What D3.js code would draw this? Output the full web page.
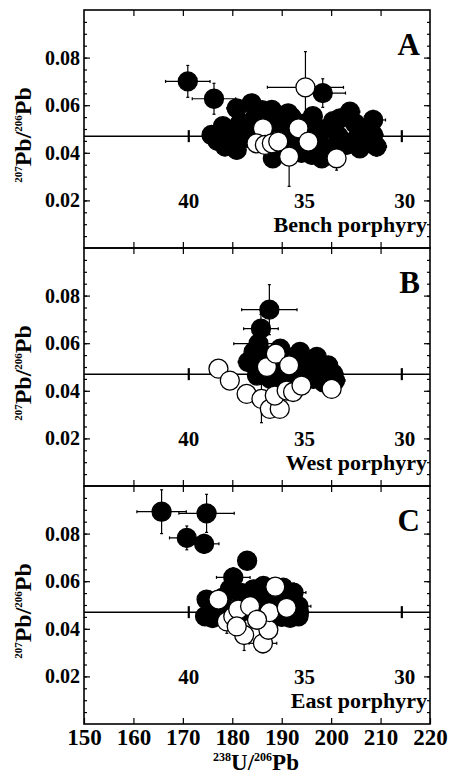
<!DOCTYPE html>
<html>
<head>
<meta charset="utf-8">
<script src="https://cdn.jsdelivr.net/npm/d3@7"></script>
<style>
  body { margin: 0; background: #fff; }
  text { font-family: "Liberation Serif", "Times New Roman", serif; font-weight: bold; fill: #000; }
</style>
</head>
<body>
<svg id="chart"></svg>
<script>
// x ticks (238U/206Pb) and y ticks (207Pb/206Pb)
const xTicks = [150, 160, 170, 180, 190, 200, 210, 220];
const yTicks = [0.02, 0.04, 0.06, 0.08];
const yMinorTicks = d3.range(0.005, 0.1, 0.005);

// concordia: flat reference line with age ticks (Ma)
const concordiaRatio = 0.047;
const ageLabels = [40, 35, 30];
const ageRatios = [171.2, 194.6, 214.3];

const panelLetters = ["A", "B", "C"];
const panelNames = ["Bench porphyry", "West porphyry", "East porphyry"];

// each point: [238U/206Pb, 207Pb/206Pb, err x, err y]
const benchFilled = [
  [171.0, 0.0700, 4.5, 0.0067], [176.3, 0.0627, 4.4, 0.0065], [180.9, 0.0587, 2.0, 0.0035],
  [183.9, 0.0608, 2.0, 0.0035], [198.3, 0.0651, 4.6, 0.0060], [175.8, 0.0475, 1.5, 0.0030],
  [178.1, 0.0512, 1.5, 0.0030], [178.5, 0.0427, 2.0, 0.0040], [180.9, 0.0412, 1.5, 0.0030],
  [181.6, 0.0526, 1.5, 0.0030], [183.6, 0.0461, 1.5, 0.0030], [186.0, 0.0579, 1.5, 0.0030],
  [188.0, 0.0580, 1.5, 0.0030], [191.3, 0.0566, 1.5, 0.0030], [188.2, 0.0377, 1.5, 0.0030],
  [190.7, 0.0482, 1.5, 0.0030], [193.7, 0.0461, 1.5, 0.0030], [196.3, 0.0554, 1.5, 0.0030],
  [196.1, 0.0391, 1.5, 0.0030], [198.1, 0.0377, 1.5, 0.0030], [199.1, 0.0419, 1.5, 0.0030],
  [200.4, 0.0533, 1.5, 0.0030], [201.8, 0.0545, 1.5, 0.0030], [203.8, 0.0573, 2.0, 0.0030],
  [203.1, 0.0433, 1.5, 0.0030], [205.2, 0.0461, 1.5, 0.0030], [208.5, 0.0538, 2.5, 0.0040],
  [208.5, 0.0475, 2.0, 0.0030], [209.2, 0.0426, 2.0, 0.0040], [204.8, 0.0524, 1.5, 0.0030],
  [205.8, 0.0419, 1.5, 0.0030], [194.7, 0.0524, 1.5, 0.0030], [192.1, 0.0420, 1.5, 0.0030],
  [186.0, 0.0440, 1.5, 0.0030], [190.0, 0.0520, 1.5, 0.0030], [184.5, 0.0545, 1.5, 0.0030],
  [197.5, 0.0480, 1.5, 0.0030], [201.5, 0.0470, 1.5, 0.0030], [182.0, 0.0480, 1.5, 0.0030],
  [184.0, 0.0520, 1.5, 0.0030], [188.5, 0.0530, 1.5, 0.0030], [192.0, 0.0550, 1.5, 0.0030],
  [195.0, 0.0460, 1.5, 0.0030], [199.0, 0.0500, 1.5, 0.0030], [202.0, 0.0440, 1.5, 0.0030],
  [206.5, 0.0500, 1.5, 0.0030], [207.0, 0.0440, 1.5, 0.0030], [190.0, 0.0430, 1.5, 0.0030],
  [194.0, 0.0400, 1.5, 0.0030], [197.0, 0.0430, 1.5, 0.0030], [186.5, 0.0475, 1.5, 0.0030],
  [179.5, 0.0470, 1.5, 0.0030], [177.0, 0.0450, 1.5, 0.0030]
];
const benchOpen = [
  [194.8, 0.0675, 7.7, 0.0150], [186.2, 0.0503, 1.5, 0.0030], [184.9, 0.0440, 1.5, 0.0030],
  [186.6, 0.0433, 1.5, 0.0030], [188.0, 0.0440, 1.5, 0.0030], [189.3, 0.0447, 1.5, 0.0030],
  [191.5, 0.0384, 1.5, 0.0125], [193.4, 0.0503, 1.5, 0.0030], [195.4, 0.0447, 1.5, 0.0070],
  [201.1, 0.0377, 1.5, 0.0050]
];

const westFilled = [
  [187.5, 0.0741, 5.6, 0.0105], [185.8, 0.0661, 3.5, 0.0060], [185.3, 0.0598, 5.0, 0.0050],
  [183.2, 0.0521, 2.0, 0.0040], [184.3, 0.0563, 1.5, 0.0030], [187.0, 0.0549, 1.5, 0.0030],
  [187.7, 0.0450, 1.5, 0.0030], [185.0, 0.0464, 1.5, 0.0030], [193.7, 0.0563, 1.5, 0.0030],
  [197.1, 0.0542, 1.5, 0.0030], [199.4, 0.0507, 1.5, 0.0030], [200.4, 0.0472, 2.0, 0.0030],
  [200.8, 0.0443, 2.0, 0.0030], [192.3, 0.0437, 1.5, 0.0030], [196.4, 0.0450, 1.5, 0.0030],
  [191.0, 0.0521, 1.5, 0.0030], [189.7, 0.0577, 1.5, 0.0030], [195.5, 0.0500, 1.5, 0.0030],
  [190.0, 0.0480, 1.5, 0.0030], [186.0, 0.0510, 1.5, 0.0030], [188.0, 0.0520, 1.5, 0.0030],
  [190.0, 0.0550, 1.5, 0.0030], [192.0, 0.0540, 1.5, 0.0030], [194.0, 0.0520, 1.5, 0.0030],
  [196.0, 0.0480, 1.5, 0.0030], [198.0, 0.0460, 1.5, 0.0030], [194.0, 0.0460, 1.5, 0.0030],
  [198.5, 0.0435, 1.5, 0.0030], [189.0, 0.0460, 1.5, 0.0030], [186.5, 0.0485, 1.5, 0.0030],
  [193.0, 0.0485, 1.5, 0.0030], [197.5, 0.0510, 1.5, 0.0030]
];
const westOpen = [
  [177.2, 0.0493, 1.5, 0.0030], [179.5, 0.0443, 1.5, 0.0030], [182.9, 0.0387, 1.5, 0.0030],
  [185.9, 0.0366, 1.5, 0.0100], [187.6, 0.0324, 1.5, 0.0030], [189.6, 0.0324, 1.5, 0.0030],
  [188.6, 0.0380, 1.5, 0.0030], [187.0, 0.0500, 1.5, 0.0030], [188.8, 0.0556, 1.5, 0.0030],
  [191.5, 0.0507, 1.5, 0.0030], [191.0, 0.0401, 1.5, 0.0030], [192.3, 0.0395, 1.5, 0.0030],
  [194.0, 0.0422, 1.5, 0.0030], [200.1, 0.0408, 1.5, 0.0030]
];

const eastFilled = [
  [165.7, 0.0892, 5.0, 0.0092], [174.8, 0.0885, 5.6, 0.0080], [170.8, 0.0782, 3.5, 0.0050],
  [174.3, 0.0757, 3.0, 0.0040], [183.0, 0.0686, 1.0, 0.0020], [180.2, 0.0616, 3.4, 0.0040],
  [179.5, 0.0566, 1.5, 0.0030], [174.8, 0.0523, 1.5, 0.0030], [174.5, 0.0452, 1.5, 0.0030],
  [176.8, 0.0495, 1.5, 0.0030], [186.3, 0.0580, 1.5, 0.0030], [190.3, 0.0573, 1.5, 0.0030],
  [192.4, 0.0552, 2.5, 0.0040], [193.4, 0.0495, 2.5, 0.0040], [193.4, 0.0452, 1.5, 0.0030],
  [191.7, 0.0446, 1.5, 0.0030], [184.3, 0.0566, 1.5, 0.0030], [181.6, 0.0467, 1.5, 0.0030],
  [188.0, 0.0520, 1.5, 0.0030], [184.0, 0.0500, 1.5, 0.0030], [178.0, 0.0530, 1.5, 0.0030],
  [182.0, 0.0550, 1.5, 0.0030], [186.0, 0.0540, 1.5, 0.0030], [189.0, 0.0530, 1.5, 0.0030],
  [191.0, 0.0520, 1.5, 0.0030], [193.5, 0.0470, 1.5, 0.0030], [178.0, 0.0470, 1.5, 0.0030],
  [176.0, 0.0445, 1.5, 0.0030], [182.0, 0.0520, 1.5, 0.0030], [190.0, 0.0450, 1.5, 0.0030],
  [186.0, 0.0470, 1.5, 0.0030]
];
const eastOpen = [
  [177.2, 0.0523, 1.5, 0.0030], [178.9, 0.0431, 1.5, 0.0050], [180.2, 0.0452, 1.5, 0.0030],
  [181.2, 0.0481, 1.5, 0.0030], [183.6, 0.0495, 1.5, 0.0030], [182.4, 0.0374, 1.5, 0.0065],
  [186.2, 0.0339, 2.8, 0.0040], [187.3, 0.0396, 1.5, 0.0030], [187.5, 0.0470, 1.5, 0.0030],
  [188.7, 0.0577, 1.5, 0.0030], [191.0, 0.0488, 1.5, 0.0030], [185.0, 0.0438, 1.5, 0.0030],
  [180.9, 0.0410, 1.5, 0.0030]
];

const panels = [
  { filled: benchFilled, open: benchOpen },
  { filled: westFilled, open: westOpen },
  { filled: eastFilled, open: eastOpen }
];

const width = 450, height = 776;
const margin = { top: 10, left: 84 };
const plotW = 346, panelH = 238, r = 9.5;

const svg = d3.select("#chart").attr("width", width).attr("height", height);
const x = d3.scaleLinear().domain([150, 220]).range([margin.left, margin.left + plotW]);

function noDomain(g) { g.select(".domain").remove(); }

panels.forEach((p, i) => {
  const top = margin.top + i * panelH;
  const y = d3.scaleLinear().domain([0, 0.1]).range([top + panelH, top]);
  const g = svg.append("g");

  // minor + major ticks, all pointing inward
  g.append("g").attr("transform", `translate(${x(150)},0)`)
    .call(d3.axisLeft(y).tickValues(yMinorTicks).tickSize(-3).tickFormat(""))
    .call(noDomain);
  g.append("g").attr("transform", `translate(${x(220)},0)`)
    .call(d3.axisRight(y).tickValues(yMinorTicks).tickSize(-3).tickFormat(""))
    .call(noDomain);
  const yl = g.append("g").attr("transform", `translate(${x(150)},0)`)
    .call(d3.axisLeft(y).tickValues(yTicks).tickSize(-6).tickPadding(4).tickFormat(d3.format(".2f")))
    .call(noDomain);
  yl.selectAll("text").style("font-size", "20px").style("font-family", null);
  g.append("g").attr("transform", `translate(${x(220)},0)`)
    .call(d3.axisRight(y).tickValues(yTicks).tickSize(-6).tickFormat(""))
    .call(noDomain);
  g.append("g").attr("transform", `translate(0,${top})`)
    .call(d3.axisTop(x).tickValues(xTicks.slice(1, -1)).tickSize(-6).tickFormat(""))
    .call(noDomain);
  const xb = g.append("g").attr("transform", `translate(0,${top + panelH})`)
    .call(d3.axisBottom(x).tickValues(i === 2 ? xTicks : xTicks.slice(1, -1)).tickSize(-6).tickPadding(5)
      .tickFormat(i === 2 ? d3.format("d") : ""))
    .call(noDomain);
  xb.selectAll("text").style("font-size", "23px").style("font-family", null);
  g.selectAll(".tick line").attr("stroke-width", 1.2);

  g.append("rect")
    .attr("x", x(150)).attr("y", top).attr("width", plotW).attr("height", panelH)
    .attr("fill", "none").attr("stroke", "#000").attr("stroke-width", 1.6);

  // concordia line and age ticks
  g.append("line")
    .attr("x1", x(150)).attr("x2", x(220))
    .attr("y1", y(concordiaRatio)).attr("y2", y(concordiaRatio))
    .attr("stroke", "#000").attr("stroke-width", 1.5);
  g.selectAll(".age-tick").data(ageRatios).join("line")
    .attr("class", "age-tick")
    .attr("x1", d => x(d)).attr("x2", d => x(d))
    .attr("y1", y(concordiaRatio) - 6).attr("y2", y(concordiaRatio) + 6)
    .attr("stroke", "#000").attr("stroke-width", 2.2);
  g.selectAll(".age-label").data(ageLabels).join("text")
    .attr("class", "age-label")
    .attr("x", (d, k) => x(ageRatios[k]) + (k === 2 ? 3 : 0))
    .attr("y", y(0.02)).attr("dy", "0.35em")
    .attr("text-anchor", "middle")
    .style("font-size", "21px")
    .text(d => d);

  // error bars below circles
  function drawSeries(data, fill) {
    const eb = g.append("g").attr("stroke", "#000").attr("stroke-width", 1.2);
    data.forEach(d => {
      const cx = x(d[0]), cy = y(d[1]);
      const x0 = x(d[0] - d[2]), x1 = x(d[0] + d[2]);
      const y0 = y(d[1] - d[3]), y1 = y(d[1] + d[3]);
      eb.append("line").attr("x1", x0).attr("x2", x1).attr("y1", cy).attr("y2", cy);
      eb.append("line").attr("x1", cx).attr("x2", cx).attr("y1", y0).attr("y2", y1);
      eb.append("line").attr("x1", x0).attr("x2", x0).attr("y1", cy - 1.5).attr("y2", cy + 1.5);
      eb.append("line").attr("x1", x1).attr("x2", x1).attr("y1", cy - 1.5).attr("y2", cy + 1.5);
      eb.append("line").attr("x1", cx - 1.5).attr("x2", cx + 1.5).attr("y1", y0).attr("y2", y0);
      eb.append("line").attr("x1", cx - 1.5).attr("x2", cx + 1.5).attr("y1", y1).attr("y2", y1);
    });
    g.append("g").selectAll("circle").data(data).join("circle")
      .attr("cx", d => x(d[0])).attr("cy", d => y(d[1])).attr("r", r)
      .attr("fill", fill).attr("stroke", "#000").attr("stroke-width", 1.3);
  }
  drawSeries(p.filled, "#000");
  drawSeries(p.open, "#fff");

  // panel letter and name
  g.append("text")
    .attr("x", x(220) - 10).attr("y", top + 45)
    .attr("text-anchor", "end")
    .style("font-size", "31px")
    .text(panelLetters[i]);
  g.append("text")
    .attr("x", x(220) - 3).attr("y", top + panelH - 16)
    .attr("text-anchor", "end")
    .style("font-size", "22px")
    .text(panelNames[i]);

  // y axis title 207Pb/206Pb
  const yt = g.append("text")
    .attr("transform", `translate(31,${top + panelH / 2 + 6}) rotate(-90)`)
    .attr("text-anchor", "middle")
    .style("font-size", "24px");
  yt.append("tspan").attr("dy", -9).style("font-size", "11px").text("207");
  yt.append("tspan").attr("dy", 9).text("Pb/");
  yt.append("tspan").attr("dy", -9).style("font-size", "11px").text("206");
  yt.append("tspan").attr("dy", 9).text("Pb");
});

// x axis title 238U/206Pb
const xt = svg.append("text")
  .attr("x", x(185) - 1).attr("y", 770)
  .attr("text-anchor", "middle")
  .style("font-size", "23px");
xt.append("tspan").attr("dy", -9).style("font-size", "12px").text("238");
xt.append("tspan").attr("dy", 9).text("U/");
xt.append("tspan").attr("dy", -9).style("font-size", "12px").text("206");
xt.append("tspan").attr("dy", 9).text("Pb");
</script>
</body>
</html>
